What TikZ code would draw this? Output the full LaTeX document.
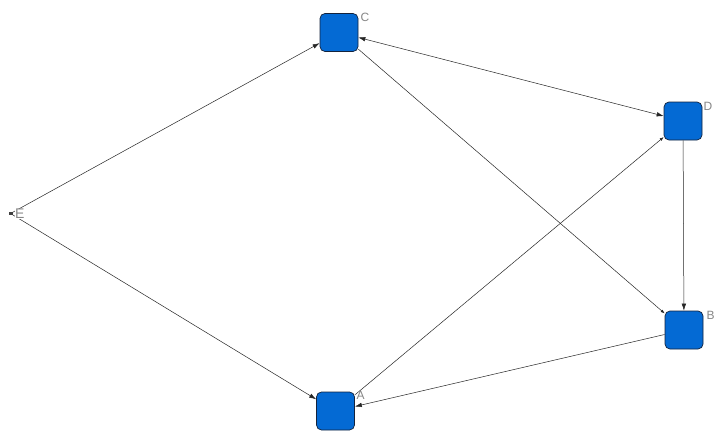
\documentclass[tikz,border=0pt]{standalone}
\usepackage{fontspec}
\setmainfont{Liberation Sans}
\usetikzlibrary{arrows.meta}
\definecolor{boxblue}{RGB}{4,106,212}
\definecolor{boxedge}{RGB}{20,35,60}
\definecolor{lblgray}{RGB}{135,135,135}
\begin{document}
\begin{tikzpicture}[x=1pt,y=-1pt,
  vbox/.style={draw=boxedge, fill=boxblue, rounded corners=5pt, minimum width=38pt, minimum height=38pt, inner sep=0pt, line width=0.7pt},
  emark/.style={fill=black!75, minimum width=4pt, minimum height=3pt, inner sep=0pt},
  lbl/.style={text=lblgray, font=\fontsize{12}{12}\selectfont, inner sep=0.5pt, anchor=north west},
  edge/.style={draw=black!85, line width=0.5pt, -{Latex[length=7pt,width=4.5pt]}},
  cedge/.style={draw=black!85, line width=0.5pt, -{Latex[length=4pt,width=3pt]}},
  bedge/.style={draw=black!85, line width=0.5pt, {Latex[length=7pt,width=4.5pt]}-{Latex[length=7pt,width=4.5pt]}}]
\useasboundingbox[fill=white] (0,0) rectangle (720,439);
\node[vbox] (C) at (339,32.5) {};
\node[vbox] (D) at (683,121) {};
\node[vbox] (B) at (684,330) {};
\node[vbox] (A) at (335.5,411) {};
\node[emark] (E) at (10.5,213.5) {};
\draw[edge] (E) -- (C);
\draw[edge] (E) -- (A);
\draw[bedge] (C) -- (D);
\draw[cedge] (C) -- (B);
\draw[cedge] (A) -- (D);
\draw[edge] (D) -- (B);
\draw[edge] (B) -- (A);
\node[lbl] (lC) at (360,12) {C};
\node[lbl] (lD) at (703,102) {D};
\node[lbl] (lB) at (706,311) {B};
\node[lbl] (lA) at (356,391) {A};
\node[lbl, fill=white, font=\fontsize{14}{14}\selectfont] (lE) at (14.5,208.5) {E};
\end{tikzpicture}
\end{document}
